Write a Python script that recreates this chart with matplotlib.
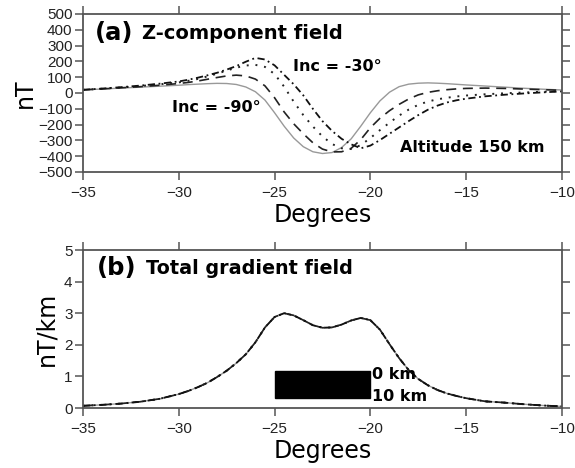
import matplotlib
matplotlib.use("Agg")
import matplotlib.pyplot as plt
from matplotlib.patches import Rectangle

plt.rcParams['font.family'] = ['Liberation Sans', 'DejaVu Sans']
wide = ['DejaVu Sans']

# profile positions (degrees)
deg = [-35, -34, -33, -32, -31, -30, -29.5, -29, -28.5, -28, -27.5, -27, -26.5, -26,
       -25.5, -25, -24.5, -24, -23.5, -23, -22.5, -22, -21.5, -21, -20.5, -20,
       -19.5, -19, -18.5, -18, -17.5, -17, -16.5, -16, -15.5, -15, -14, -13, -12, -11, -10]

# Z-component (nT) for four inclinations
z_inc90 = [20, 25, 31, 37, 43, 49, 53, 56, 59, 61, 60, 54, 38, 8,
           -45, -125, -210, -285, -340, -372, -383, -377, -345, -290, -210, -125,
           -50, 5, 40, 56, 62, 64, 62, 59, 55, 51, 44, 37, 30, 24, 19]
z_inc70 = [20, 26, 33, 40, 49, 60, 67, 76, 87, 98, 108, 113, 108, 88,
           45, -30, -120, -195, -258, -315, -355, -373, -372, -350, -295, -220,
           -160, -112, -72, -38, -12, 4, 14, 21, 26, 29, 31, 29, 25, 21, 17]
z_inc50 = [20, 27, 35, 44, 55, 67, 77, 89, 105, 122, 142, 160, 174, 178,
           165, 120, 40, -55, -140, -212, -275, -323, -350, -355, -330, -285,
           -235, -188, -143, -105, -75, -54, -40, -30, -22, -16, -8, -2, 3, 8, 12]
z_inc30 = [20, 28, 37, 47, 59, 73, 84, 97, 112, 128, 148, 170, 198, 222,
           212, 175, 115, 55, -15, -100, -178, -240, -290, -325, -350, -333,
           -298, -258, -218, -178, -140, -106, -80, -60, -46, -36, -21, -11, -3, 4, 10]

# total gradient amplitude (nT/km), same for every inclination
tg = [0.07, 0.10, 0.14, 0.20, 0.29, 0.44, 0.54, 0.66, 0.80, 0.98, 1.18, 1.42, 1.70, 2.08,
      2.55, 2.88, 3.00, 2.93, 2.78, 2.62, 2.54, 2.55, 2.64, 2.77, 2.85, 2.78,
      2.48, 2.02, 1.58, 1.20, 0.92, 0.72, 0.57, 0.46, 0.38, 0.31, 0.21, 0.17, 0.12, 0.08, 0.05]

# source body: from -25 to -20 degrees, 0-10 km
body_x = [-25, -20]
body_y = [0.32, 1.16]

frame = '#555555'
styles = [
    dict(color='#999999', lw=1.0, ls='-'),
    dict(color='#222222', lw=1.2, ls=(0, (6, 4))),
    dict(color='#222222', lw=1.4, ls=(0, (1, 3.5))),
    dict(color='#111111', lw=1.3, ls=(0, (4, 2, 1, 2))),
]


def style_axes(ax):
    for sp in ax.spines.values():
        sp.set_color(frame)
        sp.set_linewidth(1.3)
    ax.tick_params(direction='out', length=6, width=1.1, color=frame,
                   labelcolor='#222222', labelsize=11,
                   top=True, right=True, labeltop=False, labelright=False)
    ax.tick_params(axis='y', pad=1.5)
    ax.tick_params(axis='x', pad=4)
    ax.set_xlim(-35, -10)
    ax.set_xticks([-35, -30, -25, -20, -15, -10])


def note(ax, x, y, s, size):
    ax.text(x, y, s, fontsize=size, fontweight='bold', va='center', family=wide)


fig = plt.figure(figsize=(5.75, 4.68), dpi=100)

# (a) Z-component
ax1 = fig.add_axes([0.1443, 0.6325, 0.833, 0.3376])
for ys, st in zip([z_inc90, z_inc70, z_inc50, z_inc30], styles):
    ax1.plot(deg, ys, **st)
style_axes(ax1)
ax1.set_ylim(-500, 500)
ax1.set_yticks(range(-500, 501, 100))
ax1.set_ylabel('nT', fontsize=17, labelpad=1, family=wide)
ax1.set_xlabel('Degrees', fontsize=17, labelpad=2, family=wide)
note(ax1, -34.4, 380, '(a)', 17.5)
note(ax1, -31.9, 375, 'Z-component field', 14)
note(ax1, -24.05, 166, 'Inc = -30°', 11.5)
note(ax1, -30.35, -89, 'Inc = -90°', 11.5)
note(ax1, -18.45, -348, 'Altitude 150 km', 11.5)

# (b) total gradient
ax2 = fig.add_axes([0.1443, 0.1282, 0.833, 0.3376])
for st in styles:
    ax2.plot(deg, tg, **st)
style_axes(ax2)
ax2.set_ylim(0, 5)
ax2.set_yticks(range(0, 6))
ax2.set_ylabel('nT/km', fontsize=17, labelpad=4, family=wide)
ax2.set_xlabel('Degrees', fontsize=17, labelpad=2, family=wide)
ax2.add_patch(Rectangle((body_x[0], body_y[0]), body_x[1] - body_x[0],
                        body_y[1] - body_y[0], color='black', zorder=3))
note(ax2, -34.3, 4.43, '(b)', 17.5)
note(ax2, -31.7, 4.4, 'Total gradient field', 13.8)
note(ax2, -19.9, 1.05, '0 km', 11.5)
note(ax2, -19.9, 0.37, '10 km', 11.5)

fig.savefig('out.png', dpi=100)
